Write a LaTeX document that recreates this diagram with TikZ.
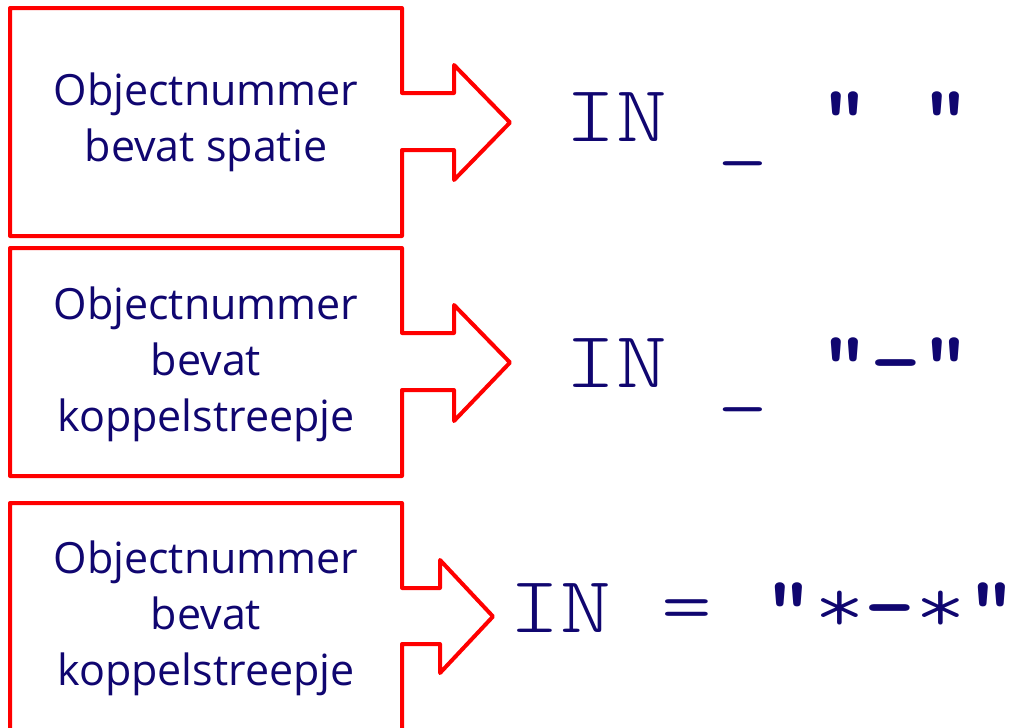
\documentclass[tikz,border=0pt]{standalone}
\usepackage{fontspec}
\setmainfont{Open Sans}
\newfontfamily\codefont{Latin Modern Mono Light}[FakeStretch=1.21]
\usetikzlibrary{positioning}
\definecolor{navy}{RGB}{16,6,112}
\tikzstyle{callout} = [draw=red, line width=4pt, line join=round]
\newcommand{\lowbar}{\raisebox{-10pt}{\_}}

\begin{document}
\begin{tikzpicture}[x=1pt, y=-1pt,
  boxtext/.style={align=center, text=navy, font=\fontsize{43}{56}\selectfont, inner sep=0pt},
  codetext/.style={anchor=base west, text=navy, font=\codefont\fontsize{80}{80}\selectfont, inner sep=0pt}
]
\useasboundingbox (0,0) rectangle (1021,728);

% Box 1: spatie
\draw[callout] (402,93) -- (402,8) -- (10,8) -- (10,236) -- (402,236) -- (402,150)
  -- (454,150) -- (454,180) -- (510,122.5) -- (454,65) -- (454,93) -- cycle;
\node[boxtext] (spatie) at (206,122) {Objectnummer\\bevat spatie};
\node[codetext] (codespatie) at (565,141) {IN \lowbar{} {\bfseries"} {\bfseries"}};

% Box 2: koppelstreepje
\draw[callout] (402,333) -- (402,248) -- (10,248) -- (10,476) -- (402,476) -- (402,390)
  -- (454,390) -- (454,421) -- (510,362.5) -- (454,305) -- (454,333) -- cycle;
\node[boxtext] (streep) at (206,364) {Objectnummer\\bevat\\koppelstreepje};
\node[codetext] (codestreep) at (565,387) {IN \lowbar{} {\bfseries"-"}};

% Box 3: koppelstreepje, with wildcards
\draw[callout] (10,732) -- (10,503) -- (402,503) -- (402,588) -- (440,588) -- (440,560)
  -- (493,616.5) -- (440,673) -- (440,644) -- (402,644) -- (402,732);
\node[boxtext] (wildcard) at (206,618) {Objectnummer\\bevat\\koppelstreepje};
\node[codetext] (codewildcard) at (509,632) {IN = {\bfseries"}*{\bfseries-}*{\bfseries"}};
\end{tikzpicture}
\end{document}
